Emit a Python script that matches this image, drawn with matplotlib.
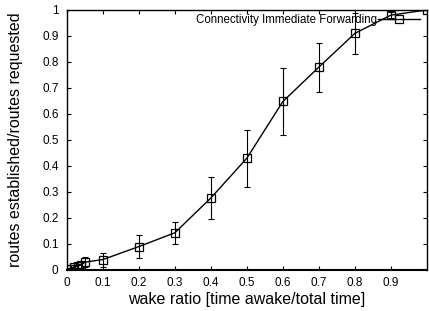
import numpy as np
import matplotlib
matplotlib.use('Agg')
import matplotlib.pyplot as plt

plt.rcParams['font.family'] = ['Liberation Sans', 'DejaVu Sans']

wake = [0, 0.01, 0.02, 0.03, 0.04, 0.05, 0.1, 0.2, 0.3, 0.4, 0.5, 0.6, 0.7, 0.8, 0.9, 1.0]
routes = [0.002, 0.005, 0.012, 0.015, 0.02, 0.03, 0.04, 0.09, 0.143, 0.277, 0.43, 0.648, 0.78, 0.91, 0.98, 1.0]
err = [0.002, 0.004, 0.006, 0.008, 0.012, 0.02, 0.027, 0.043, 0.043, 0.08, 0.11, 0.13, 0.094, 0.08, 0.012, 0.0]

fig = plt.figure(figsize=(4.29, 3.11), dpi=100)
ax = fig.add_axes([0.156, 0.132, 0.839, 0.836])

ax.errorbar(wake, routes, yerr=err, fmt='none', ecolor='black', elinewidth=0.8,
            capsize=2, capthick=0.8)
ax.plot(wake, routes, color='black', lw=1, marker='s', ms=5.2, mfc='none',
        mec='black', mew=0.9, label='Connectivity Immediate Forwarding')

ax.set_xlim(0, 1)
ax.set_ylim(0, 1)
ax.set_xticks(np.arange(0, 1.0, 0.1))
ax.set_xticklabels(['0'] + ['%.1f' % v for v in np.arange(0.1, 1.0, 0.1)])
ax.set_yticks(np.arange(0, 1.01, 0.1))
ax.set_yticklabels(['0'] + ['%.1f' % v for v in np.arange(0.1, 1.0, 0.1)] + ['1'])
ax.tick_params(direction='in', top=True, right=True, labelsize=8.5, length=3, width=0.8)
ax.tick_params(axis='x', pad=5)
ax.tick_params(axis='y', pad=6)
for s in ax.spines.values():
    s.set_linewidth(1)
ax.spines['bottom'].set_linewidth(1.5)

ax.set_xlabel('wake ratio [time awake/total time]', fontsize=11.5, labelpad=2)
ax.set_ylabel('routes established/routes requested', fontsize=11.5, labelpad=14)

leg = ax.legend(loc='center right', bbox_to_anchor=(0.98, 0.96), frameon=False,
                fontsize=8.3, markerfirst=False, handlelength=3.6,
                borderaxespad=0, borderpad=0, handletextpad=0.1)

fig.savefig('out.png', dpi=100)
